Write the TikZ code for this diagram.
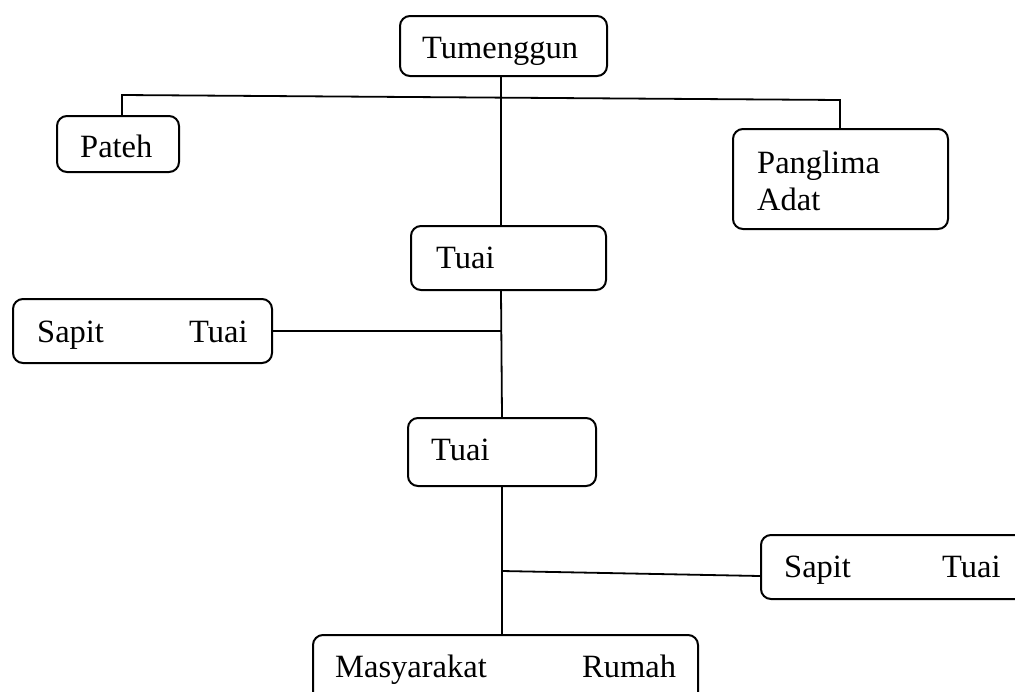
\documentclass[tikz,border=0pt]{standalone}
\usepackage{fontspec}
\setmainfont{Liberation Serif}
\begin{document}
\begin{tikzpicture}[x=1pt,y=-1pt,
  box/.style={draw,line width=2pt,rounded corners=10pt,inner sep=0pt},
  lbl/.style={anchor=base west,inner sep=0pt,font=\fontsize{32.5}{37}\selectfont},
  conn/.style={line width=1.8pt}]
\useasboundingbox (0,0) rectangle (1015,691);
\clip (0,0) rectangle (1015,691);
% boxes
\node[box,minimum width=207pt,minimum height=60pt] (tum) at (503.5,46) {};
\node[box,minimum width=122pt,minimum height=56pt] (pateh) at (118,144) {};
\node[box,minimum width=215pt,minimum height=100pt] (pang) at (840.5,179) {};
\node[box,minimum width=195pt,minimum height=64pt] (tuai1) at (508.5,258) {};
\node[box,minimum width=259pt,minimum height=64pt] (sapit1) at (142.5,331) {};
\node[box,minimum width=188pt,minimum height=68pt] (tuai2) at (502,452) {};
\node[box,minimum width=269pt,minimum height=64pt] (sapit2) at (895.5,567) {};
\node[box,minimum width=385pt,minimum height=75pt] (masy) at (505.5,672.5) {};
% texts
\node[lbl] (tumt) at (422,58) {Tumenggun};
\node[lbl] (pateht) at (80,157) {Pateh};
\node[lbl] (pangt1) at (757,173) {Panglima};
\node[lbl] (pangt2) at (757,210) {Adat};
\node[lbl] (tuai1t) at (436,268) {Tuai};
\node[lbl] (sapit1a) at (37,342) {Sapit};
\node[lbl] (sapit1b) at (189,342) {Tuai};
\node[lbl] (tuai2t) at (431,460) {Tuai};
\node[lbl] (sapit2a) at (784,577) {Sapit};
\node[lbl] (sapit2b) at (942,577) {Tuai};
\node[lbl] (masya) at (335,677) {Masyarakat};
\node[lbl] (masyb) at (582,677) {Rumah};
% connectors
\coordinate (spine) at (501,0);
\coordinate (spineb) at (502,0);
\coordinate (pa) at (122,95);
\coordinate (pb) at (840,100);
\coordinate (j2) at (502,571);
\draw[conn] (tum.south -| spine) -- (tuai1.north -| spine);
\draw[conn] (pateh.north -| pa) -- (pa) -- (pb) -- (pang.north -| pb);
\draw[conn] (sapit1.east) -- (sapit1.east -| spine);
\draw[conn] (tuai1.south -| spine) -- (tuai2.north -| spineb);
\draw[conn] (tuai2.south -| spineb) -- (masy.north -| spineb);
\draw[conn] (j2) -- ([yshift=-9pt]sapit2.west);
\end{tikzpicture}
\end{document}
